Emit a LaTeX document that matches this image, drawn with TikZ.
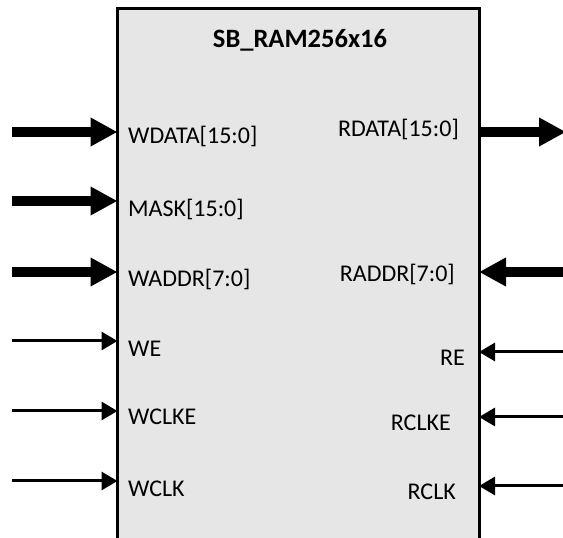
\documentclass[tikz,border=0pt]{standalone}
\usepackage{fontspec}
\setmainfont{Carlito}
\usetikzlibrary{arrows.meta}
\definecolor{ramgray}{RGB}{230,230,230}

\begin{document}
\begin{tikzpicture}[x=1pt, y=1pt,
  rambox/.style={draw=black, line width=3pt, fill=ramgray, inner sep=0pt, outer sep=0pt},
  pinlabel/.style={font=\fontsize{24}{27}\selectfont, inner sep=0pt},
  bus/.style={line width=10pt, -{Triangle[length=27pt,width=27pt]}},
  wire/.style={line width=3pt, -{Triangle[length=16pt,width=18pt]}}]
  \useasboundingbox (0,0) rectangle (563,538);
  \node[rambox, minimum width=361.5pt, minimum height=532pt] (ram) at (298.25,263) {};
  \node[pinlabel, font=\bfseries\fontsize{26.5}{30}\selectfont, anchor=base] (title) at (300,490) {SB\_RAM256x16};
  % write side
  \foreach \pin/\txt/\ya/\yb/\kind in {wdata/WDATA[15:0]/406/394/bus, mask/MASK[15:0]/337/321/bus,
      waddr/WADDR[7:0]/266/251/bus, we/WE/197/181/wire, wclke/WCLKE/127/113/wire, wclk/WCLK/57/41/wire}{
    \node[pinlabel, anchor=base west] (\pin) at (128,\yb) {\txt};
    \coordinate (\pin-src) at (12,\ya);
    \draw[\kind] (\pin-src) -- (\pin-src -| ram.west);
  }
  % read side
  \node[pinlabel, anchor=base east] (rdata) at (459,401) {RDATA[15:0]};
  \coordinate (rdata-dst) at (566,406);
  \draw[bus] (rdata-dst -| ram.east) -- (rdata-dst);
  \foreach \pin/\txt/\xb/\ya/\yb/\kind in {raddr/RADDR[7:0]/455/266/256/bus, re/RE/465/186/172/wire,
      rclke/RCLKE/451/121/107/wire, rclk/RCLK/456/52/38/wire}{
    \node[pinlabel, anchor=base east] (\pin) at (\xb,\yb) {\txt};
    \coordinate (\pin-src) at (563,\ya);
    \draw[\kind] (\pin-src) -- (\pin-src -| ram.east);
  }
\end{tikzpicture}
\end{document}
